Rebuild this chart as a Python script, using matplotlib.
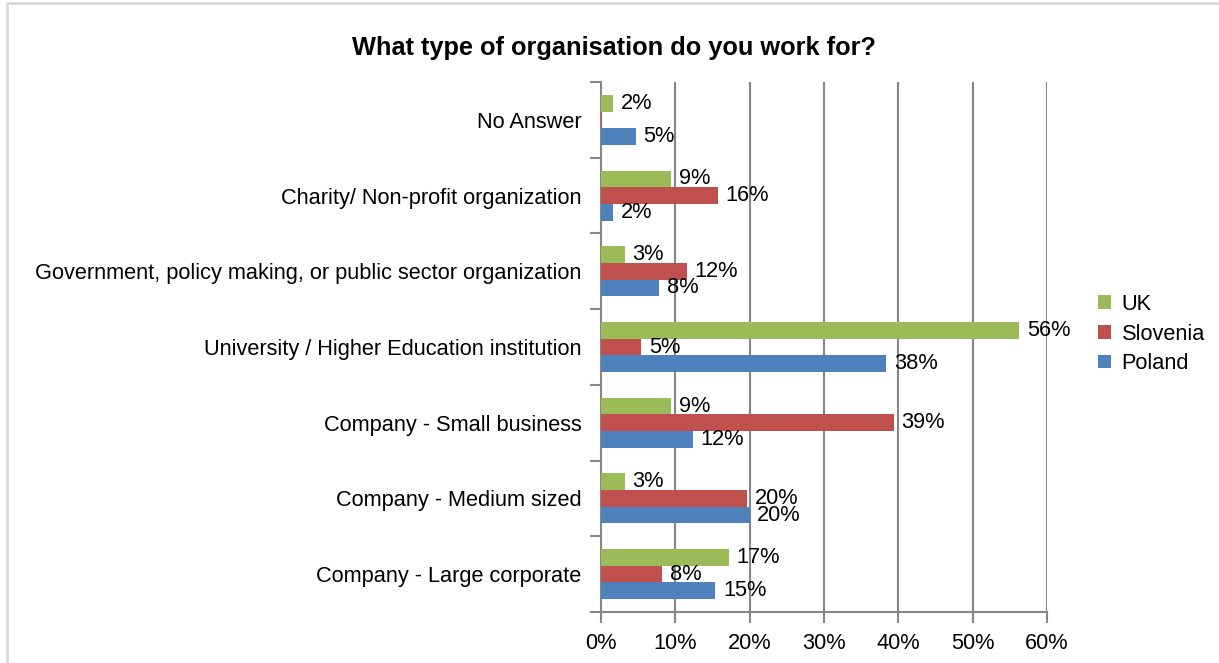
import numpy as np
import matplotlib.pyplot as plt
from matplotlib.patches import Rectangle

plt.rcParams['font.family'] = ['Liberation Sans', 'DejaVu Sans']

# categories listed bottom to top
categories = ['Company - Large corporate', 'Company - Medium sized',
              'Company - Small business', 'University / Higher Education institution',
              'Government, policy making, or public sector organization',
              'Charity/ Non-profit organization', 'No Answer']
uk = [17.2, 3.2, 9.4, 56.3, 3.2, 9.4, 1.6]
slovenia = [8.2, 19.7, 39.4, 5.4, 11.6, 15.7, 0.15]
poland = [15.4, 20.0, 12.4, 38.4, 7.8, 1.6, 4.7]
series_names = ['UK', 'Slovenia', 'Poland']
colors = ['#9BBB59', '#C0504D', '#4F81BD']
x_ticks = [0, 10, 20, 30, 40, 50, 60]

W, H = 1219, 663
fs = 15.7
fig = plt.figure(figsize=(W / 100, H / 100), dpi=100)
ax = fig.add_axes([601 / W, 1 - 612 / H, (1047 - 601) / W, (612 - 82) / H])

y = np.arange(len(categories))
bh = 0.22
grid_col = '#878787'

for k, (vals, name, col) in enumerate(zip([uk, slovenia, poland], series_names, colors)):
    pos = y + (1 - k) * bh
    ax.barh(pos, vals, height=bh, color=col, label=name, zorder=3)
    for p, v in zip(pos, vals):
        if round(v) > 0:
            ax.annotate(f'{v:.0f}%', (v, p), xytext=(5.5, 0), textcoords='offset points',
                        va='center', ha='left', fontsize=fs, zorder=4)

ax.set_xlim(0, 60)
ax.set_ylim(-0.5, len(categories) - 0.5)
ax.set_xticks(x_ticks)
ax.set_xticklabels([f'{t}%' for t in x_ticks], fontsize=fs)
ax.xaxis.grid(True, color=grid_col, linewidth=1.5, zorder=0)
ax.tick_params(axis='x', length=8, width=1.5, color=grid_col, pad=7)

# category boundary tick marks, names on minor ticks
ax.set_yticks(np.arange(-0.5, len(categories), 1.0))
ax.set_yticklabels([])
ax.set_yticks(y, minor=True)
ax.set_yticklabels(categories, minor=True, fontsize=fs)
ax.tick_params(axis='y', which='major', length=8, width=1.5, color=grid_col)
ax.tick_params(axis='y', which='minor', length=0, pad=14)

for s in ['top', 'right']:
    ax.spines[s].set_visible(False)
for s in ['left', 'bottom']:
    ax.spines[s].set_color(grid_col)
    ax.spines[s].set_linewidth(1.5)

handles, labels = ax.get_legend_handles_labels()
fig.legend(handles, labels, loc='center left', bbox_to_anchor=(1078 / W, 1 - 334 / H),
           frameon=False, fontsize=fs, handlelength=0.6, handleheight=0.6,
           handletextpad=0.5, labelspacing=0.4)

fig.text(614 / W, 1 - 48 / H, 'What type of organisation do you work for?',
         ha='center', va='center', fontsize=18.3, fontweight='bold')

# outer chart frame (left and top edges)
fig.add_artist(Rectangle((7 / W, -0.1), 1.2, 1 - 3 / H + 0.1, transform=fig.transFigure,
                         fill=False, edgecolor='#d9d9d9', linewidth=2))

fig.savefig('out.png', dpi=100)
